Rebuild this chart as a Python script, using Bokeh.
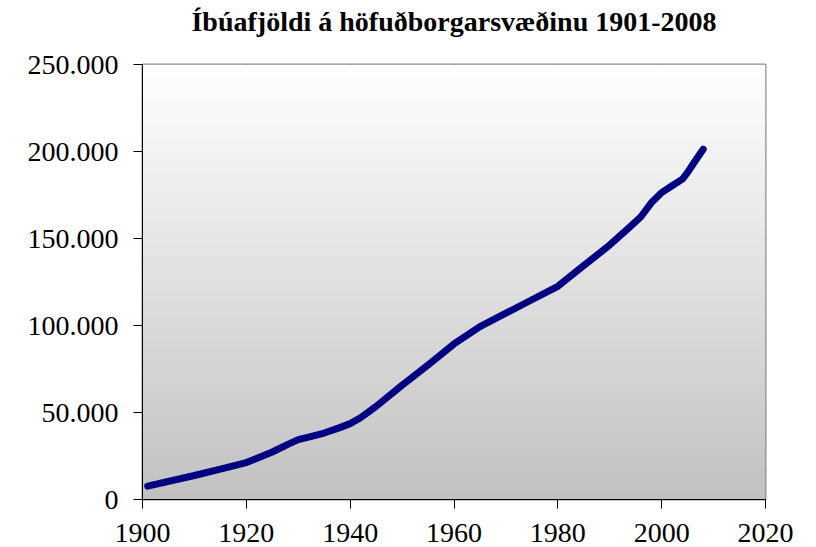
import numpy as np
from bokeh.plotting import figure
from bokeh.models import Range1d, FixedTicker, LinearAxis
from bokeh.embed import file_html
from bokeh.resources import INLINE

title_text = "Íbúafjöldi á höfuðborgarsvæðinu 1901-2008"

years = [1901, 1910, 1915, 1920, 1925, 1928, 1930, 1932, 1935, 1938, 1940,
         1942, 1945, 1950, 1955, 1960, 1965, 1970, 1975, 1980, 1985, 1988,
         1990, 1992, 1994, 1996, 1998, 2000, 2002, 2004, 2005, 2006, 2007,
         2008]
population = [7700, 13800, 17500, 21200, 27300, 31700, 34400, 35900, 38200,
              41300, 43600, 47000, 53500, 65700, 77300, 89400, 99400, 107100,
              114800, 122500, 134500, 141500, 146300, 151600, 157000, 162500,
              170500, 176400, 180300, 184100, 188000, 192500, 197000, 201300]

x_ticks = [1900, 1920, 1940, 1960, 1980, 2000, 2020]
y_ticks = [0, 50000, 100000, 150000, 200000, 250000]
y_tick_labels = ["0", "50.000", "100.000", "150.000", "200.000", "250.000"]

FONT = "Liberation Serif"

p = figure(width=816, height=547, output_backend="svg", toolbar_location=None,
           x_range=Range1d(x_ticks[0], x_ticks[-1]),
           y_range=Range1d(y_ticks[0], y_ticks[-1]),
           min_border_left=142, min_border_right=51, min_border_top=64,
           min_border_bottom=48)
p.background_fill_color = "white"
p.border_fill_color = "white"
p.outline_line_color = "#8c8c8c"
p.outline_line_width = 2

# vertical gradient background (white at top -> gray at bottom)
n = 200
shade = np.linspace(194, 255, n).astype(np.uint32)
img = np.zeros((n, 1), dtype=np.uint32)
view = img.view(dtype=np.uint8).reshape((n, 1, 4))
view[:, 0, 0] = shade
view[:, 0, 1] = shade
view[:, 0, 2] = shade
view[:, 0, 3] = 255
p.image_rgba(image=[img], x=x_ticks[0], y=y_ticks[0],
             dw=x_ticks[-1] - x_ticks[0], dh=y_ticks[-1] - y_ticks[0])

p.line(years, population, line_color="#000080", line_width=7,
       line_cap="round", line_join="round")

# axes
for ax in (p.xaxis[0], p.yaxis[0]):
    ax.axis_line_color = "black"
    ax.axis_line_width = 1
    ax.major_tick_line_color = "black"
    ax.major_tick_out = 9
    ax.major_tick_in = 0
    ax.minor_tick_line_color = None
    ax.major_label_text_font = FONT
    ax.major_label_text_font_size = "28px"
    ax.major_label_text_color = "black"

p.xaxis.ticker = FixedTicker(ticks=x_ticks)
p.xaxis.major_label_standoff = 15
p.yaxis.ticker = FixedTicker(ticks=y_ticks)
p.yaxis.major_label_overrides = {t: l for t, l in zip(y_ticks, y_tick_labels)}
p.yaxis.major_label_standoff = 15

# grid
p.xgrid.ticker = FixedTicker(ticks=x_ticks[1:-1])
p.ygrid.ticker = FixedTicker(ticks=y_ticks[1:-1])
p.xgrid.grid_line_color = "#1a1a1a"
p.ygrid.grid_line_color = "#1a1a1a"
p.xgrid.grid_line_width = 1
p.ygrid.grid_line_width = 1

# title: carried by a bare axis above the plot so it can sit near the top edge
title_axis = LinearAxis(ticker=FixedTicker(ticks=[]), axis_line_color=None,
                        major_tick_line_color=None, minor_tick_line_color=None,
                        major_tick_out=0, minor_tick_out=0,
                        major_label_standoff=0,
                        axis_label=title_text, axis_label_standoff=28,
                        axis_label_text_font=FONT,
                        axis_label_text_font_size="28px",
                        axis_label_text_font_style="bold",
                        axis_label_text_color="black")
p.add_layout(title_axis, "above")

open("out.html", "w").write(file_html(p, INLINE))
